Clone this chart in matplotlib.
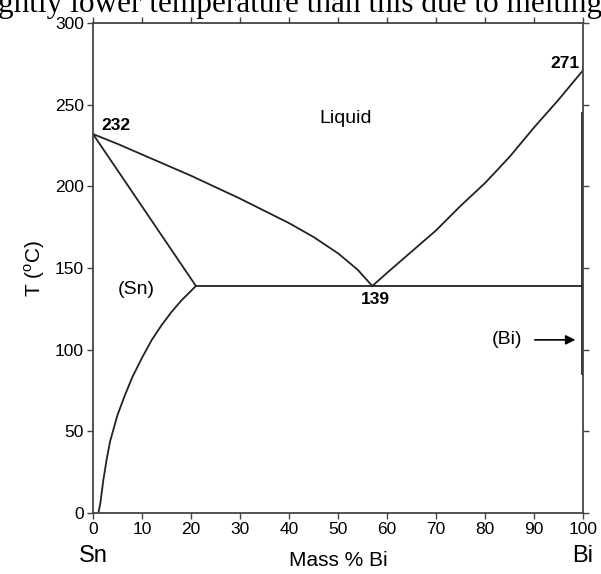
import numpy as np
import matplotlib
matplotlib.use("Agg")
import matplotlib.pyplot as plt

plt.rcParams['font.family'] = ['Liberation Sans', 'DejaVu Sans']
plt.rcParams['mathtext.fontset'] = 'custom'
plt.rcParams['mathtext.rm'] = 'Liberation Sans'

# liquidus, Sn-rich side (mass % Bi, T degC)
liq_sn_x = [0, 5, 10, 15, 20, 25, 30, 35, 40, 45, 50, 54, 57]
liq_sn_t = [232, 226, 219.5, 213, 206.5, 199.5, 192.5, 185, 177.5, 169, 159, 149, 139]
# liquidus, Bi-rich side
liq_bi_x = [57, 60, 65, 70, 75, 80, 85, 90, 95, 100]
liq_bi_t = [139, 147, 160, 173, 188, 202, 218, 236, 253, 271]
# solidus of (Sn)
sol_sn_x = [0, 21]
sol_sn_t = [232, 139]
# solvus of (Sn)
solv_x = [1.1, 1.5, 2.1, 2.8, 3.5, 5, 6.5, 8, 10, 12, 14, 16, 18, 21]
solv_t = [0, 6, 20, 33, 44, 60, 72, 83, 95, 106, 115, 123, 130, 139]
# eutectic isotherm
eut_x = [21, 100]
eut_t = [139, 139]
# (Bi) phase boundary
bi_x = [99.7, 99.7]
bi_t = [245, 85]

fig = plt.figure(figsize=(6.01, 5.74), dpi=100)
ax = fig.add_axes([93/601, 1-513/574, 490/601, 490/574])

lc = '#222222'
lw = 1.3
ax.plot(liq_sn_x, liq_sn_t, c=lc, lw=lw)
ax.plot(liq_bi_x, liq_bi_t, c=lc, lw=lw)
ax.plot(sol_sn_x, sol_sn_t, c=lc, lw=lw)
ax.plot(solv_x, solv_t, c=lc, lw=lw)
ax.plot(eut_x, eut_t, c=lc, lw=lw)
ax.plot(bi_x, bi_t, c=lc, lw=lw)

ax.set_xlim(0, 100)
ax.set_ylim(0, 300)
ax.set_xticks(np.arange(0, 101, 10))
ax.set_yticks(np.arange(0, 301, 50))
ax.tick_params(direction='out', length=4.5, width=1, color='#444444',
               top=True, right=True, labelsize=12.5, pad=2)
for s in ax.spines.values():
    s.set_color('#444444')
    s.set_linewidth(1.3)

ax.set_ylabel(r'T ($^{\mathrm{o}}$C)', fontsize=15, labelpad=6)
ax.set_xlabel('Mass % Bi', fontsize=15, labelpad=10)

ax.text(0, -0.088, 'Sn', transform=ax.transAxes, fontsize=17, ha='center', va='center')
ax.text(1.0, -0.088, 'Bi', transform=ax.transAxes, fontsize=17, ha='center', va='center')

ax.text(4.6, 237.5, '232', fontsize=12.5, fontweight='bold', ha='center', va='center')
ax.text(96.3, 275.5, '271', fontsize=12.5, fontweight='bold', ha='center', va='center')
ax.text(57.6, 130.5, '139', fontsize=12.5, fontweight='bold', ha='center', va='center')
ax.text(51.5, 241.5, 'Liquid', fontsize=14, ha='center', va='center')
ax.text(8.8, 137, '(Sn)', fontsize=14, ha='center', va='center')
ax.text(84.5, 106, '(Bi)', fontsize=14, ha='center', va='center')
ax.annotate('', xy=(99.0, 106), xytext=(89.6, 106),
            arrowprops=dict(arrowstyle='-|>', color='black', lw=1.2,
                            mutation_scale=14))

fig.text(-0.004, 1-12/574, 'ghtly lower temperature than this due to melting',
         fontsize=22.5, family='Liberation Serif', va='baseline', ha='left')

fig.savefig('out.png', dpi=100)
